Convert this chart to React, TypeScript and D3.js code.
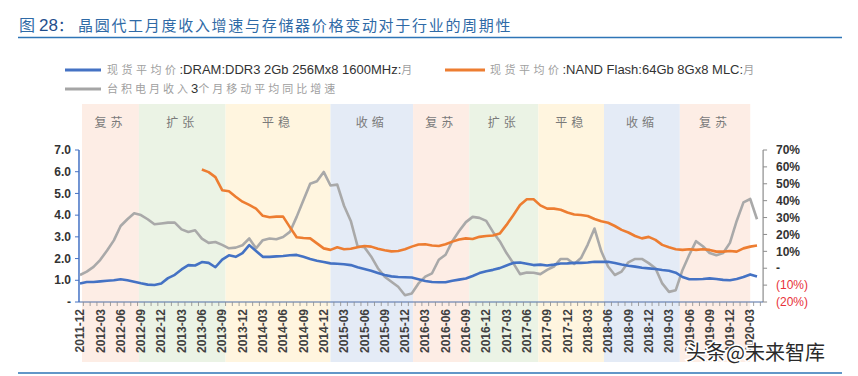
import React from 'react';
import * as d3 from 'd3';

// ---------- data ----------
const startMonth = new Date(2011, 11, 1);
const months: Date[] = d3.timeMonth.range(startMonth, new Date(2020, 4, 1)); // 2011-12 .. 2020-04

// DRAM DDR3 2Gb spot average price (USD), left axis
const dramPrice: number[] = [
  0.85, 0.92, 0.92, 0.95, 0.98, 1.0, 1.05, 1.0, 0.93, 0.86,
  0.8, 0.78, 0.85, 1.1, 1.25, 1.5, 1.7, 1.68, 1.84, 1.8,
  1.6, 1.95, 2.15, 2.08, 2.25, 2.62, 2.35, 2.08, 2.08, 2.1,
  2.12, 2.15, 2.17, 2.08, 1.98, 1.9, 1.84, 1.78, 1.76, 1.74,
  1.7, 1.6, 1.52, 1.44, 1.34, 1.24, 1.18, 1.15, 1.14, 1.13,
  1.05, 0.97, 0.92, 0.91, 0.91, 0.98, 1.03, 1.08, 1.2, 1.33,
  1.42, 1.48, 1.56, 1.68, 1.8, 1.82, 1.76, 1.7, 1.72, 1.68,
  1.72, 1.77, 1.78, 1.8, 1.8, 1.82, 1.85, 1.85, 1.85, 1.8,
  1.73, 1.67, 1.63, 1.58, 1.55, 1.52, 1.47, 1.44, 1.35, 1.15,
  1.05, 1.05, 1.06, 1.09, 1.06, 1.02, 1.0, 1.06, 1.15, 1.27,
  1.18,
];

// NAND Flash 64Gb MLC spot average price (USD), left axis
const nandPrice: (number | null)[] = [
  null, null, null, null, null, null, null, null, null, null,
  null, null, null, null, null, null, null, null, 6.1, 5.98,
  5.75, 5.15, 5.1, 4.85, 4.62, 4.47, 4.3, 3.97, 3.9, 3.93,
  3.93, 3.45, 2.98, 2.95, 2.93, 2.7, 2.47, 2.4, 2.52, 2.43,
  2.45, 2.52, 2.58, 2.55, 2.45, 2.38, 2.33, 2.35, 2.43, 2.55,
  2.65, 2.66, 2.6, 2.58, 2.66, 2.78, 2.88, 2.93, 2.9, 3.0,
  3.04, 3.06, 3.15, 3.55, 4.0, 4.47, 4.73, 4.73, 4.45, 4.3,
  4.3, 4.25, 4.12, 4.03, 4.01, 3.96, 3.82, 3.72, 3.65, 3.5,
  3.32, 3.2, 3.04, 2.93, 3.0, 2.86, 2.63, 2.52, 2.43, 2.4,
  2.43, 2.4, 2.43, 2.4, 2.32, 2.32, 2.35, 2.32, 2.47, 2.55,
  2.6,
];

// TSMC monthly revenue, 3-month moving average YoY growth (%), right axis
const tsmcGrowth: number[] = [
  -4, -2, 0.8, 5, 10.5, 16.5, 25, 29, 32.5, 31.5,
  29, 26, 26.5, 27, 27, 23, 21.5, 22.5, 17.5, 15,
  15.5, 13.8, 11.8, 12.2, 13.6, 17.6, 11.8, 16.6, 17.6, 17.2,
  18.5, 21.5, 30.4, 40.2, 50, 51.5, 57, 49, 49.5, 37,
  28, 13, 12.5, 7, 0, -5, -8, -11, -16, -15,
  -9, -5, -3, 5, 8, 16, 22, 27.3, 30.4, 29.8,
  28, 21.5, 16, 9, 3, -3.5, -2.5, -2.7, -3.5, -1,
  1, 5.5, 5.5, 2.5, 6, 14, 23.5, 10, 1, -4,
  -2, 3.5, 5.5, 5.5, 3, 0, -9, -14, -13, -1,
  8, 16, 13, 9, 7.7, 9, 15, 28, 39, 41,
  29,
];

// industry cycle phases (boundaries in month index units)
const phaseNames = ['复苏', '扩张', '平稳', '收缩', '复苏', '扩张', '平稳', '收缩', '复苏'];
const phaseBounds = [0.3, 8.7, 21.5, 37, 49.2, 57.5, 67.7, 77.4, 88.6, 99];
const phaseColors: Record<string, string> = {
  '复苏': '#fdede5',
  '扩张': '#ebf3e5',
  '平稳': '#fff5df',
  '收缩': '#e4ebf6',
};

const leftTicks = [0, 1, 2, 3, 4, 5, 6, 7];
const rightTicks = [-20, -10, 0, 10, 20, 30, 40, 50, 60, 70];

const title = '晶圆代工月度收入增速与存储器价格变动对于行业的周期性';

// ---------- layout ----------
const W = 858;
const H = 376;
const latin = '"Liberation Sans", Arial, sans-serif';
const cjk = '"Noto Sans CJK SC", "Noto Sans", sans-serif';

const x = d3.scaleLinear().domain([0, 100]).range([80, 757]);
const yL = d3.scaleLinear().domain([0, 7]).range([302, 150]);
const yR = d3.scaleLinear().domain([-20, 70]).range([302, 150]);

const fmtMonth = d3.timeFormat('%Y-%m');

function leftLabel(v: number) {
  return v === 0 ? '-' : v.toFixed(1);
}
function rightLabel(v: number) {
  if (v === 0) return '-';
  if (v < 0) return `(${Math.abs(v)}%)`;
  return `${v}%`;
}

export default function App() {
  const lineL = d3
    .line<number | null>()
    .defined((d) => d !== null)
    .x((_, i) => x(i))
    .y((d) => yL(d as number));
  const lineR = d3
    .line<number>()
    .x((_, i) => x(i))
    .y((d) => yR(d));

  const axisY = yL(0);
  const leftX = x(-0.15);
  const rightX = x(100.9);

  return (
    <svg
      width={W}
      height={H}
      style={{ position: 'absolute', left: 0, top: 0, background: '#fff' }}
    >
      {/* title */}
      <text x={19} y={31} fontFamily={cjk} fontSize={16} fill="#2f6aa6">
        图
      </text>
      <text x={39} y={31} fontFamily={latin} fontSize={17} fill="#1f4e8c">
        28
      </text>
      <text x={58} y={31} fontFamily={cjk} fontSize={15} fill="#1f4e8c">
        ：
      </text>
      <text x={78} y={31} fontFamily={cjk} fontSize={15} letterSpacing={1.7} fill="#2f6aa6">
        {title}
      </text>
      <line x1={18} x2={842} y1={37.5} y2={37.5} stroke="#2e75b6" strokeWidth={1.5} />
      <line x1={18} x2={842} y1={373} y2={373} stroke="#2e75b6" strokeWidth={1.5} />

      {/* legend */}
      <line x1={65} x2={101} y1={70} y2={70} stroke="#4472c4" strokeWidth={3} />
      <text x={107} y={74} fontSize={13} fill="#333">
        <tspan fontFamily={cjk} fontSize={11} fill="#a0a0a0" letterSpacing={3.5}>现货平均价</tspan>
        <tspan fontFamily={latin}>:DRAM:DDR3 2Gb 256Mx8 1600MHz:</tspan>
        <tspan fontFamily={cjk} fontSize={11} fill="#a0a0a0">月</tspan>
      </text>
      <line x1={445} x2={485} y1={70} y2={70} stroke="#ed7d31" strokeWidth={3} />
      <text x={490} y={74} fontSize={13} fill="#333">
        <tspan fontFamily={cjk} fontSize={11} fill="#a0a0a0" letterSpacing={3.5}>现货平均价</tspan>
        <tspan fontFamily={latin}>:NAND Flash:64Gb 8Gx8 MLC:</tspan>
        <tspan fontFamily={cjk} fontSize={11} fill="#a0a0a0">月</tspan>
      </text>
      <line x1={65} x2={101} y1={89} y2={89} stroke="#a5a5a5" strokeWidth={3} />
      <text x={107} y={93} fontSize={11} fill="#a0a0a0">
        <tspan fontFamily={cjk} letterSpacing={3}>台积电月收入</tspan>
        <tspan fontFamily={latin} fontSize={13} fill="#333">3</tspan>
        <tspan fontFamily={cjk} letterSpacing={3}>个月移动平均同比增速</tspan>
      </text>

      {/* phase bands */}
      {phaseNames.map((name, i) => {
        const x0 = x(phaseBounds[i]);
        const x1 = x(phaseBounds[i + 1]);
        return (
          <g key={`ph${i}`}>
            <rect x={x0} y={104} width={x1 - x0} height={258} fill={phaseColors[name]} />
            <text
              x={(x0 + x1) / 2}
              y={127}
              textAnchor="middle"
              fontFamily={cjk}
              fontSize={12}
              letterSpacing={4}
              fill="#7a7a7a"
            >
              {name}
            </text>
          </g>
        );
      })}

      {/* left axis */}
      <line x1={leftX} x2={leftX} y1={yL(7)} y2={axisY} stroke="#4472c4" strokeWidth={1.5} />
      {leftTicks.map((t) => (
        <g key={`lt${t}`}>
          <line x1={leftX - 4} x2={leftX} y1={yL(t)} y2={yL(t)} stroke="#4472c4" strokeWidth={1} />
          <text
            x={71}
            y={yL(t)}
            dy="0.35em"
            textAnchor="end"
            fontFamily={latin}
            fontWeight="bold"
            fontSize={12}
            fill="#333"
          >
            {leftLabel(t)}
          </text>
        </g>
      ))}

      {/* right axis */}
      <line x1={rightX} x2={rightX} y1={yR(70)} y2={yR(-20)} stroke="#8c8c8c" strokeWidth={1.2} />
      {rightTicks.map((t) => (
        <g key={`rt${t}`}>
          <line x1={rightX} x2={rightX + 4} y1={yR(t)} y2={yR(t)} stroke="#8c8c8c" strokeWidth={1} />
          <text
            x={776}
            y={yR(t)}
            dy="0.35em"
            fontFamily={latin}
            fontSize={12}
            fontWeight={t < 0 ? 'normal' : 'bold'}
            fill={t < 0 ? '#e8313a' : '#333'}
          >
            {rightLabel(t)}
          </text>
        </g>
      ))}

      {/* x axis */}
      <line x1={leftX} x2={rightX} y1={axisY} y2={axisY} stroke="#4f6fa8" strokeWidth={1.2} />
      {months.map((m, i) => (
        <line
          key={`xt${i}`}
          x1={x(i + 0.5)}
          x2={x(i + 0.5)}
          y1={axisY}
          y2={axisY + 4}
          stroke="#8c8c8c"
          strokeWidth={0.8}
        />
      ))}
      {months.map((m, i) =>
        i % 3 === 0 ? (
          <text
            key={`xl${i}`}
            transform={`translate(${x(i)},${axisY + 7}) rotate(-90)`}
            textAnchor="end"
            dy="0.35em"
            fontFamily={latin}
            fontWeight="bold"
            fontSize={12}
            fill="#404040"
          >
            {fmtMonth(m)}
          </text>
        ) : null
      )}

      {/* series */}
      <path d={lineR(tsmcGrowth) || ''} fill="none" stroke="#a9a9a9" strokeWidth={2.6} strokeLinejoin="round" />
      <path d={lineL(nandPrice) || ''} fill="none" stroke="#ed7d31" strokeWidth={2.6} strokeLinejoin="round" />
      <path d={lineL(dramPrice) || ''} fill="none" stroke="#4472c4" strokeWidth={2.6} strokeLinejoin="round" />

      {/* watermark */}
      <text
        x={686}
        y={360}
        fontFamily={cjk}
        fontSize={20}
        fill="#2a2a2a"
        stroke="#fff"
        strokeWidth={3}
        paintOrder="stroke"
      >
        头条@未来智库
      </text>
    </svg>
  );
}
